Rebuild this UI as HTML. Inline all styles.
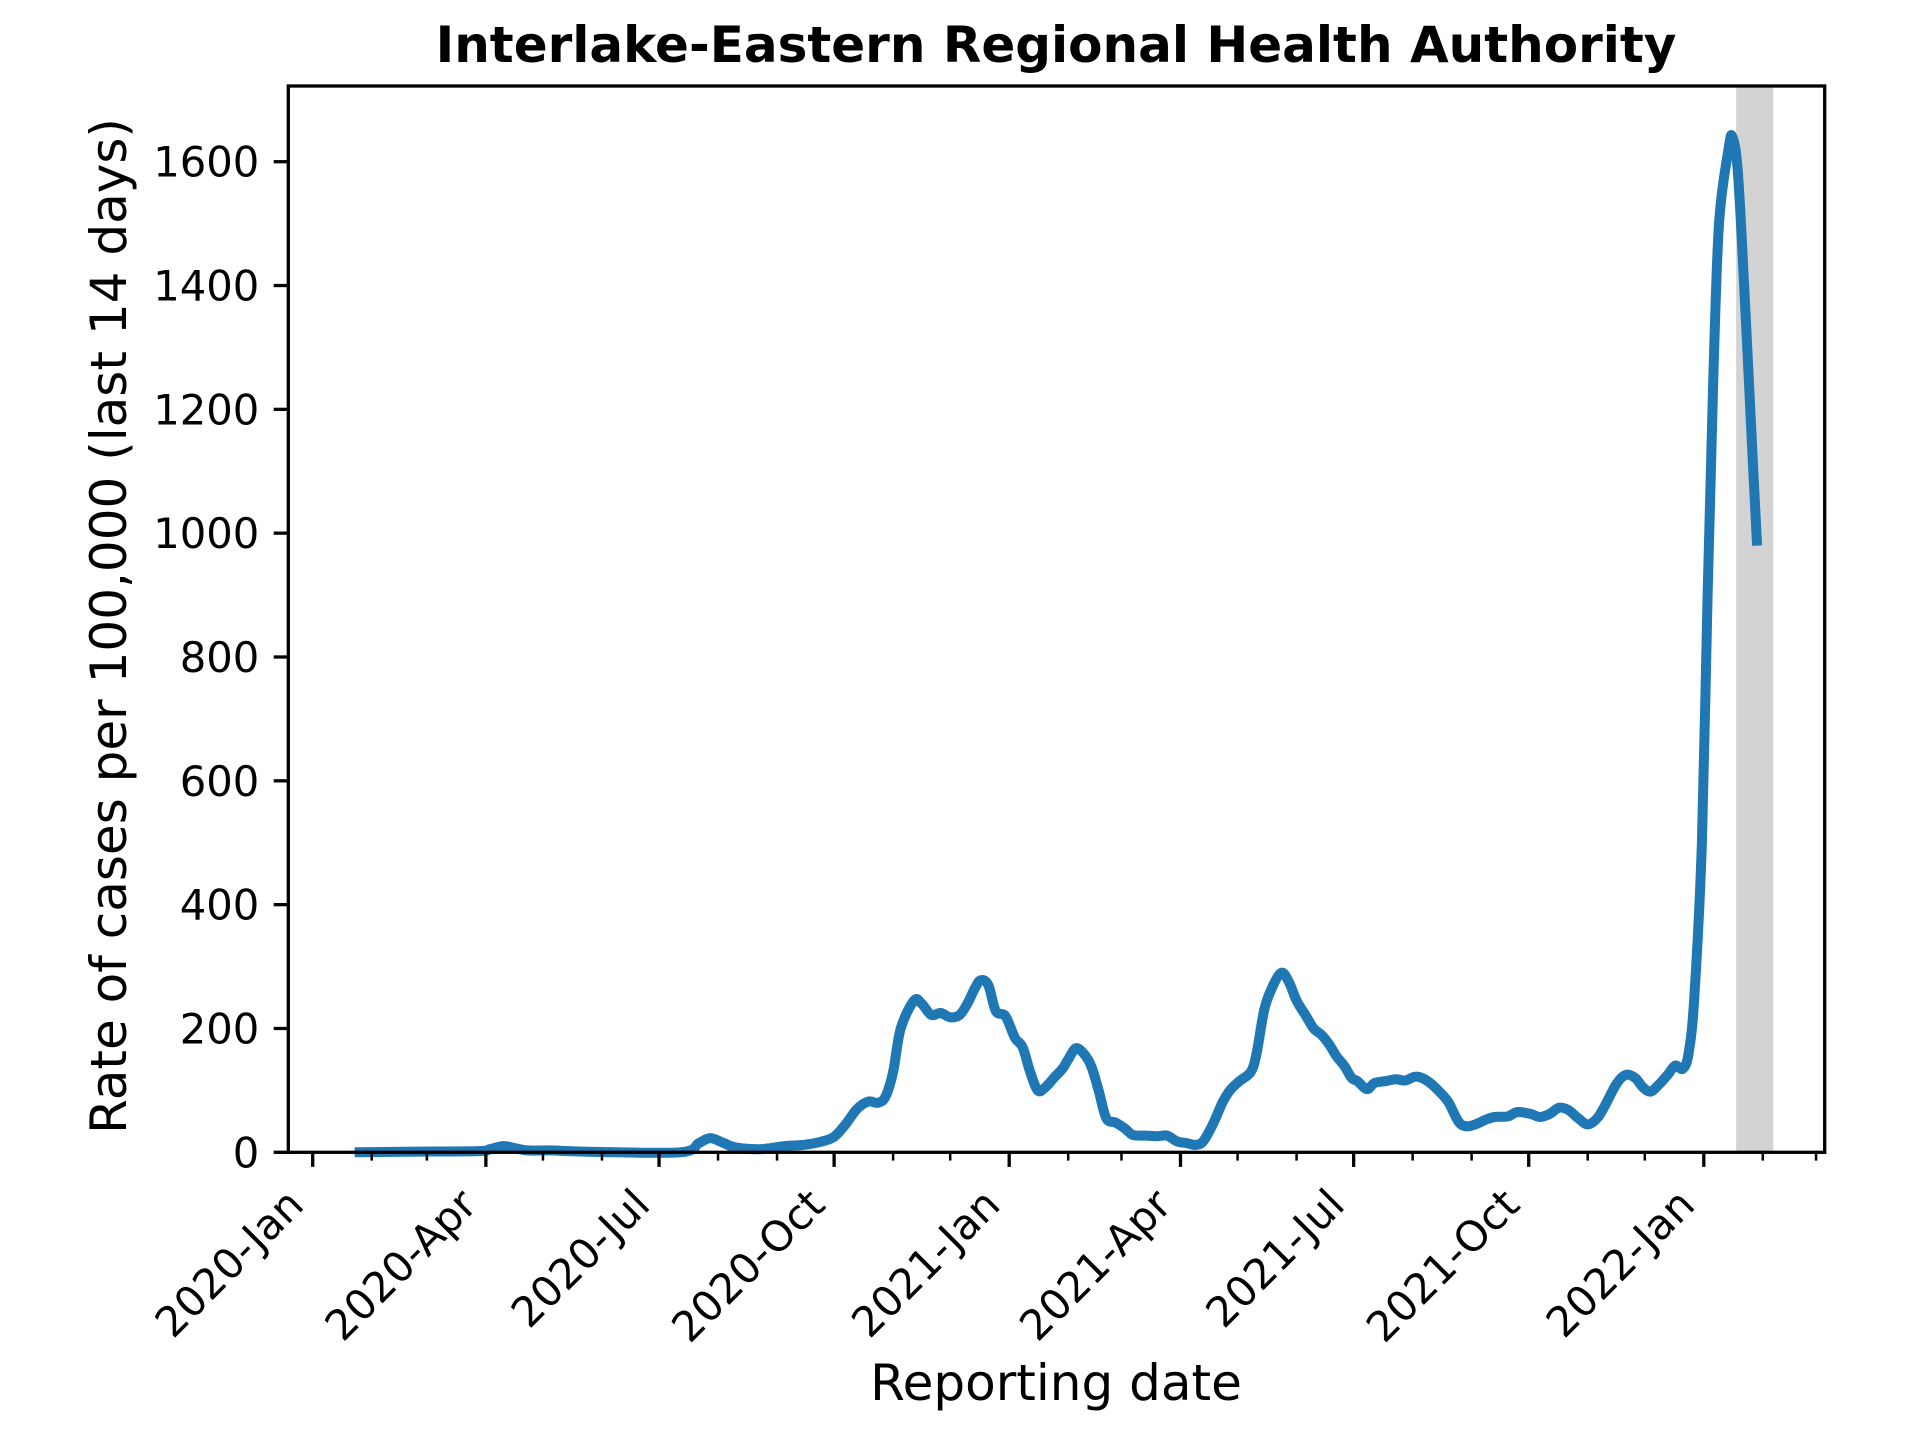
<!DOCTYPE html>
<html><head><meta charset="utf-8"><style>
html,body{margin:0;padding:0;background:#fff}
svg{display:block;font-family:"DejaVu Sans","Liberation Sans",sans-serif}
</style></head><body>
<svg id="chart" width="1920" height="1440" viewBox="0 0 1920 1440">
<rect width="1920" height="1440" fill="#fff"/>
<text x="1056" y="62" text-anchor="middle" font-size="50" font-weight="bold">Interlake-Eastern Regional Health Authority</text>
<g id="plot"></g>
<text transform="translate(126,626) rotate(-90)" text-anchor="middle" font-size="50">Rate of cases per 100,000 (last 14 days)</text>
<text x="1056" y="1400" text-anchor="middle" font-size="50">Reporting date</text>
</svg>
<script>
const days = [22,48,87,93,100,106,113,125,145,193,203,209,216,222,235,248,258,267,274,280,286,292,297,301,305,309,316,320,325,330,335,340,344,348,351,355,359,364,369,373,377,381,385,390,394,397,401,405,409,413,417,422,427,431,438,444,449,454,459,464,468,473,478,482,487,493,496,500,504,509,513,517,522,526,530,534,538,542,546,549,554,558,564,569,574,579,583,588,593,597,602,606,611,616,621,628,633,640,645,650,655,660,665,670,675,679,685,690,695,699,703,707,712,716,720,723,726,730,733,736,739,744,746,749,753,757,759];
const rates = [0,1,2,5,10,7,3,3,1,0,15,23,15,8,5,10,12,17,25,45,70,82,80,90,130,200,245,240,222,225,218,222,240,265,278,270,228,220,185,170,130,100,105,122,135,150,168,160,140,100,55,48,38,28,27,26,27,18,15,12,18,45,80,100,115,130,160,230,265,290,275,245,220,200,190,175,155,140,120,115,102,112,115,118,116,122,120,110,95,80,50,42,45,52,57,58,65,62,57,62,72,68,55,45,55,75,110,125,120,105,98,108,125,140,135,160,250,500,900,1250,1500,1620,1640,1580,1350,1100,980];
const yTicks = [0,200,400,600,800,1000,1200,1400,1600];
const majorLabels = ["2020-Jan","2020-Apr","2020-Jul","2020-Oct","2021-Jan","2021-Apr","2021-Jul","2021-Oct","2022-Jan"];
const shadeRange = [748,767.5];

const L=288.3,R=1824.7,T=86,B=1152.3;
const x0=312.7, pxDay=1.903;
const X = d => x0 + d*pxDay;
const Y = v => B - v*(990.6/1600);
const ns="http://www.w3.org/2000/svg";
const g=document.getElementById('plot');
function mk(tag,attrs,parent){const e=document.createElementNS(ns,tag);for(const k in attrs)e.setAttribute(k,attrs[k]);(parent||g).appendChild(e);return e;}

const sh=mk('rect',{x:X(shadeRange[0]),y:T,width:X(shadeRange[1])-X(shadeRange[0]),height:B-T,fill:'#d3d3d3'});



// smooth curve (Catmull-Rom, tension reduced) through data points
const P=days.map((d,i)=>[X(d),Y(rates[i])]);
let dstr='M'+P[0][0].toFixed(1)+','+P[0][1].toFixed(1);
const k=0.5/3;
for(let i=0;i<P.length-1;i++){
  const p0=P[Math.max(0,i-1)],p1=P[i],p2=P[i+1],p3=P[Math.min(P.length-1,i+2)];
  let c1y=p1[1]+(p2[1]-p0[1])*k, c2y=p2[1]-(p3[1]-p1[1])*k;
  const lo=Math.min(p1[1],p2[1])-6, hi=Math.max(p1[1],p2[1])+6;
  c1y=Math.max(Math.min(c1y,Math.max(hi,p1[1])),Math.min(lo,p1[1]));
  c2y=Math.max(Math.min(c2y,Math.max(hi,p2[1])),Math.min(lo,p2[1]));
  dstr+=' C'+(p1[0]+(p2[0]-p0[0])*k).toFixed(1)+','+c1y.toFixed(1)+' '+(p2[0]-(p3[0]-p1[0])*k).toFixed(1)+','+c2y.toFixed(1)+' '+p2[0].toFixed(1)+','+p2[1].toFixed(1);
}
const line=mk('path',{d:dstr,fill:'none',stroke:'#1f77b4','stroke-width':10,'stroke-linejoin':'round','stroke-linecap':'butt'});



const frame=mk('rect',{x:L,y:T,width:R-L,height:B-T,fill:'none',stroke:'#000','stroke-width':3.3});



yTicks.forEach(v=>{
  const y=Y(v);
  const t=mk('line',{x1:L-14.6,x2:L,y1:y,y2:y,stroke:'#000','stroke-width':3.3});
  
  
  const lb=mk('text',{x:L-29,y:y+15,'text-anchor':'end','font-size':41.7});
  lb.textContent=v;
  
  
});

for(let m=0;m<27;m++){
  const yr=2020+Math.floor(m/12), mo=m%12;
  const d=(Date.UTC(yr,mo,1)-Date.UTC(2020,0,1))/86400000;
  const x=X(d);
  const major = mo%3===0;
  const t=mk('line',{x1:x,x2:x,y1:B,y2:B+(major?14.6:8.3),stroke:'#000','stroke-width':major?3.3:2.5});
  
  
  if(major){
    const lab=majorLabels[m/3];
    if(lab){
      const px=x-7, py=1207;
      const lb=mk('text',{x:px,y:py,'text-anchor':'end','font-size':41.7,transform:`rotate(-45 ${px} ${py})`});
      lb.textContent=lab;
      
      
    }
  }
}
</script>
</body></html>
